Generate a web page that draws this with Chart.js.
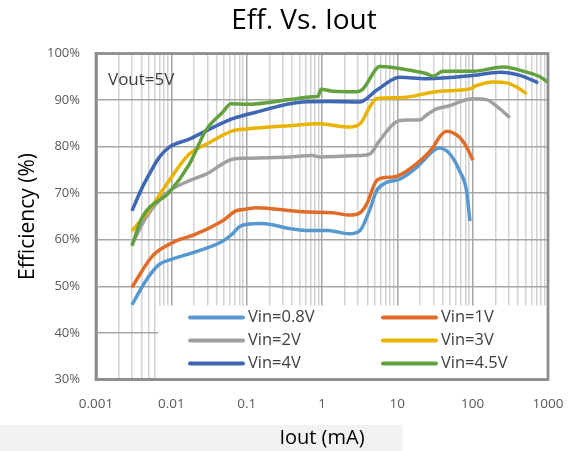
<!DOCTYPE html>
<html>
<head>
<meta charset="utf-8">
<script src="https://cdn.jsdelivr.net/npm/chart.js@4.4.1/dist/chart.umd.min.js"></script>
<style>
    html, body { margin: 0; padding: 0; background: #fff; }
    #wrap { position: relative; width: 571px; height: 451px; }
    #band { position: absolute; left: 0; top: 425px; width: 403px; height: 26px; background: #f2f2f2; }
    canvas { position: absolute; left: 0; top: 0; }
</style>
</head>
<body>
<div id="wrap">
    <div id="band"></div>
    <canvas id="effChart" width="571" height="451"></canvas>
</div>
<script>
// ---- data (Iout in mA, efficiency in %) ----
const seriesLabels = ["Vin=0.8V", "Vin=1V", "Vin=2V", "Vin=3V", "Vin=4V", "Vin=4.5V"];
const xTickLabels = ["0.001", "0.01", "0.1", "1", "10", "100", "1000"];

const iout08 = [0.003, 0.0045, 0.0069, 0.01, 0.019, 0.048, 0.065, 0.08, 0.1, 0.16, 0.37, 0.6, 1.2, 2.3, 3.2, 4.2, 5.3, 7.1, 10.7, 17.9, 30, 36, 50, 67, 83, 92];
const eff08  = [46, 51, 54.7, 55.8, 57.2, 59.7, 61.3, 62.8, 63.3, 63.5, 62.4, 62, 62, 61.3, 62, 66, 70.5, 72.3, 73, 75.5, 79.1, 79.7, 78.4, 74.8, 70.5, 64];

const iout1 = [0.003, 0.0056, 0.0104, 0.021, 0.048, 0.072, 0.1, 0.133, 0.55, 1.39, 2.3, 3.2, 3.9, 5.3, 7.1, 9.6, 17.9, 30, 36, 45, 67, 83, 101];
const eff1  = [49.8, 56.5, 59.4, 61.2, 64.1, 66.2, 66.6, 66.9, 66, 65.8, 65.3, 65.8, 67.6, 72.7, 73.4, 73.6, 76.3, 79.9, 82, 83.3, 82, 79.9, 77.1];

const iout2 = [0.003, 0.0045, 0.0069, 0.0094, 0.0173, 0.029, 0.065, 0.1, 0.37, 0.75, 0.92, 3.2, 4.3, 5.8, 9.6, 13, 19.8, 24, 33, 50, 75, 101, 152, 230, 312];
const eff2  = [59, 64.5, 68.5, 70.5, 72.7, 74.1, 77.3, 77.5, 77.8, 78.1, 77.8, 78.1, 78.4, 81.3, 85.3, 85.7, 85.7, 86.7, 88.1, 88.8, 89.9, 90.3, 90.1, 88.1, 86.2];

const iout3 = [0.003, 0.0056, 0.0084, 0.0173, 0.029, 0.065, 0.1, 0.37, 0.92, 2.3, 3.2, 4.3, 5.3, 10.7, 36, 92, 112, 187, 282, 424, 520];
const eff3  = [61.9, 67.3, 71.6, 78.4, 80.5, 83.4, 83.8, 84.5, 84.9, 84.2, 84.9, 88.5, 90.3, 90.5, 91.9, 92.4, 93.1, 93.9, 93.7, 92.4, 91.3];

const iout4 = [0.003, 0.0041, 0.0051, 0.0069, 0.0094, 0.0173, 0.029, 0.065, 0.133, 0.55, 1.26, 3.2, 5.3, 10.7, 24, 101, 230, 424, 741];
const eff4  = [66.2, 71.2, 74.1, 77.7, 79.9, 81.6, 83.4, 86, 87.4, 89.6, 89.7, 89.6, 92.1, 94.9, 94.6, 95.3, 96, 95.3, 93.7];

const iout45 = [0.003, 0.0041, 0.0094, 0.0173, 0.029, 0.048, 0.062, 0.1, 0.37, 0.75, 0.88, 0.97, 1.39, 2.85, 3.5, 5.3, 5.8, 9.6, 14.6, 24, 30, 40, 101, 254, 520, 782, 1000];
const eff45  = [58.7, 64.8, 70.2, 76.2, 83.6, 87.4, 89.2, 89.1, 90.1, 90.7, 90.8, 92.3, 91.9, 91.8, 92.4, 96.8, 97.2, 96.9, 96.4, 95.7, 95.1, 96.2, 96.2, 97.1, 96, 95, 93.8];

const seriesX = [iout08, iout1, iout2, iout3, iout4, iout45];
const seriesY = [eff08, eff1, eff2, eff3, eff4, eff45];
const seriesColors = ["#5898d0", "#e06c28", "#a0a0a0", "#eab300", "#3f67b3", "#62a13e"];

const FONT = "'Open Sans', 'Noto Sans', sans-serif";

function isDecade(v) {
    const l = Math.log10(v);
    return Math.abs(l - Math.round(l)) < 1e-6;
}

/**
 * Overlay: title, Vout note, legend box inside the plot
 */
const overlayPlugin = {
    id: "overlay",
    beforeDatasetsDraw(chart) {
        const { ctx, chartArea: a } = chart;
        // white legend panel sitting on the grid, bottom-right of plot
        const bx = a.left + 62, by = a.bottom - 74;
        ctx.save();
        ctx.fillStyle = "#ffffff";
        ctx.fillRect(bx, by, a.right - bx, a.bottom - by);

        ctx.font = "16.5px " + FONT;
        ctx.textBaseline = "middle";
        ctx.textAlign = "left";
        chart.data.datasets.forEach((ds, i) => {
            const col = i % 2, row = Math.floor(i / 2);
            const lx = a.left + 94 + col * 193;
            const ly = by + 12 + row * 23;
            ctx.strokeStyle = ds.borderColor;
            ctx.lineWidth = 4;
            ctx.lineCap = "round";
            ctx.beginPath();
            ctx.moveTo(lx, ly);
            ctx.lineTo(lx + 53, ly);
            ctx.stroke();
            ctx.fillStyle = "#404040";
            ctx.fillText(ds.label, lx + 58, ly);
        });
        ctx.restore();
    },
    afterDraw(chart) {
        const { ctx, chartArea: a } = chart;
        ctx.save();
        // plot frame
        ctx.strokeStyle = "#8c8c8c";
        ctx.lineWidth = 2.7;
        ctx.strokeRect(a.left, a.top, a.right - a.left, a.bottom - a.top);

        ctx.fillStyle = "#404040";
        ctx.font = "17px " + FONT;
        ctx.textBaseline = "middle";
        ctx.textAlign = "left";
        ctx.fillText("Vout=5V", a.left + 12, a.top + 27);

        ctx.fillStyle = "#000000";
        ctx.font = "28px " + FONT;
        ctx.textAlign = "center";
        ctx.fillText("Eff. Vs. Iout", 304, 21);
        ctx.restore();
    }
};

document.addEventListener("DOMContentLoaded", () => {
    const ctx = document.getElementById("effChart").getContext("2d");

    const datasets = seriesLabels.map((label, i) => ({
        label,
        data: seriesX[i].map((x, k) => ({ x, y: seriesY[i][k] })),
        borderColor: seriesColors[i],
        backgroundColor: seriesColors[i],
        borderWidth: 3.5,
        pointRadius: 0,
        cubicInterpolationMode: "monotone",
        fill: false,
        order: seriesLabels.length - i   // later series on top, like the original
    }));

    new Chart(ctx, {
        type: "line",
        data: { datasets },
        options: {
            responsive: false,
            animation: false,
            devicePixelRatio: 1,
            layout: { padding: { top: 53.5, right: 23, bottom: 0, left: 0 } },
            plugins: {
                legend: { display: false },
                title: { display: false },
                tooltip: { enabled: false }
            },
            scales: {
                x: {
                    type: "logarithmic",
                    min: 0.001,
                    max: 1000,
                    afterBuildTicks: (scale) => {
                        const ticks = [];
                        for (let e = -3; e < 3; e++) {
                            for (let m = 1; m < 10; m++) ticks.push({ value: m * Math.pow(10, e) });
                        }
                        ticks.push({ value: 1000 });
                        scale.ticks = ticks;
                    },
                    afterFit: (scale) => {
                        scale.height = 71.5;
                        // keep the plot edges where the layout padding puts them
                        scale.paddingLeft = 0;
                        scale.paddingRight = 0;
                    },
                    ticks: {
                        autoSkip: false,
                        maxRotation: 0,
                        padding: 17,
                        color: "#595959",
                        font: { family: FONT, size: 13.5 },
                        callback: (v) => isDecade(v) ? xTickLabels[Math.round(Math.log10(v)) + 3] : ""
                    },
                    grid: {
                        drawTicks: false,
                        color: (c) => (c.tick && isDecade(c.tick.value)) ? "#a6a6a6" : "#d2d2d2",
                        lineWidth: 1.5
                    },
                    border: { color: "#8c8c8c", width: 2.7 },
                    title: {
                        display: true,
                        text: "Iout (mA)",
                        color: "#000",
                        font: { family: FONT, size: 20 },
                        padding: { top: 0, bottom: 1 }
                    }
                },
                y: {
                    min: 30,
                    max: 100,
                    afterFit: (scale) => { scale.width = 96; },
                    ticks: {
                        stepSize: 10,
                        padding: 16,
                        color: "#595959",
                        font: { family: FONT, size: 13 },
                        callback: (v) => v + "%"
                    },
                    grid: { drawTicks: false, color: "#a6a6a6", lineWidth: 1.5 },
                    border: { color: "#8c8c8c", width: 2.7 },
                    title: {
                        display: true,
                        text: "Efficiency (%)",
                        color: "#000",
                        font: { family: FONT, size: 21 },
                        padding: { top: 15, bottom: 0 }
                    }
                }
            }
        },
        plugins: [overlayPlugin]
    });
});
</script>
</body>
</html>
